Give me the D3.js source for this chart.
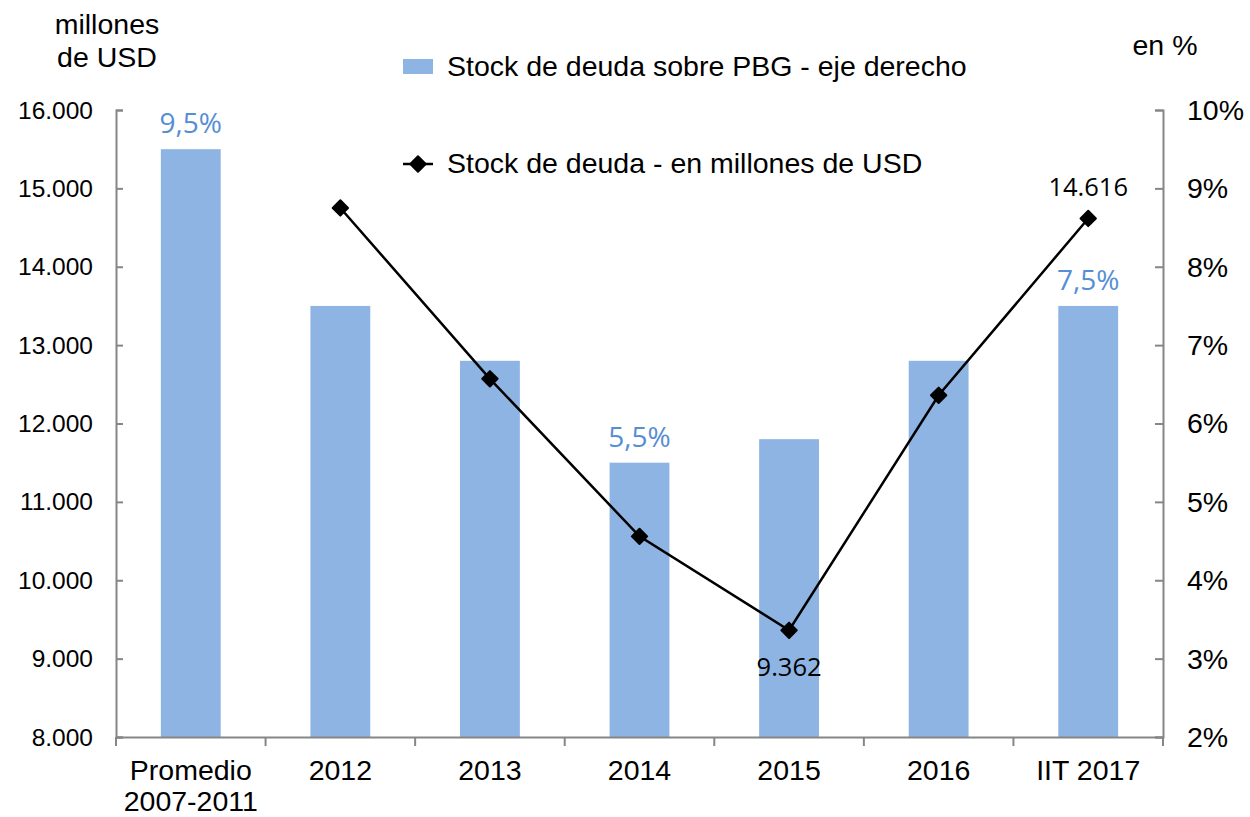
<!DOCTYPE html>
<html lang="es">
<head>
  <meta charset="UTF-8">
  <title>Stock de deuda</title>
  <script src="https://d3js.org/d3.v7.min.js"></script>
  <style>
    body { margin: 0; background: #fff; }
    text { font-family: "Liberation Sans", Arial, sans-serif; }
  </style>
</head>
<body>
  <div id="container"></div>
  <script>
    // datos
    var categories = ["Promedio\n2007-2011", "2012", "2013", "2014", "2015", "2016", "IIT 2017"];
    var debtShare = [9.5, 7.5, 6.8, 5.5, 5.8, 6.8, 7.5];            // % PBG, eje derecho
    var debtStock = [null, 14750, 12570, 10560, 9362, 12360, 14616]; // millones USD
    var leftTicks = [8000, 9000, 10000, 11000, 12000, 13000, 14000, 15000, 16000];
    var rightTicks = [2, 3, 4, 5, 6, 7, 8, 9, 10];
    var barLabelIdx = [0, 3, 6];
    var lineLabelIdx = [4, 6];

    var width = 1250, height = 817,
      margin = { left: 116, right: 87, top: 110, bottom: 80 },
      font_size = 28.5;

    var svg = d3.select("#container").append("svg")
      .attr("width", width).attr("height", height);

    var x = d3.scaleBand()
      .domain(categories)
      .range([margin.left, width - margin.right])
      .paddingInner(0.6).paddingOuter(0.3);
    var xb = d3.scaleBand().domain(categories).range([margin.left, width - margin.right]);

    var yL = d3.scaleLinear().domain([8000, 16000]).range([height - margin.bottom, margin.top]);
    var yR = d3.scaleLinear().domain([2, 10]).range([height - margin.bottom, margin.top]);
    var fmt = d3.formatLocale({ decimal: ",", thousands: ".", grouping: [3], currency: ["", ""] });

    // barras
    svg.selectAll(".bar").data(debtShare).enter().append("rect")
      .attr("class", "bar")
      .attr("x", function (d, i) { return x(categories[i]); })
      .attr("width", x.bandwidth())
      .attr("y", function (d) { return yR(d); })
      .attr("height", function (d) { return yR(2) - yR(d); })
      .style("fill", "#8EB4E3");

    // ejes
    var axisColor = "#868686";
    var gL = svg.append("g").attr("transform", "translate(" + margin.left + ",0)")
      .call(d3.axisRight(yL).tickValues(leftTicks).tickSize(7).tickFormat(""));
    var gR = svg.append("g").attr("transform", "translate(" + (width - margin.right) + ",0)")
      .call(d3.axisLeft(yR).tickValues(rightTicks).tickSize(8).tickFormat(""));
    var gB = svg.append("g").attr("transform", "translate(0," + (height - margin.bottom) + ")")
      .call(d3.axisBottom(xb).tickSize(0).tickFormat(""));
    [gL, gR, gB].forEach(function (g) {
      g.selectAll("path, line").attr("stroke", axisColor).attr("stroke-width", 2);
    });
    // ticks del eje x en los bordes de las categorias
    var bounds = categories.map(function (c) { return xb(c); }).concat([width - margin.right]);
    gB.selectAll(".sep").data(bounds).enter().append("line")
      .attr("x1", function (d) { return d; }).attr("x2", function (d) { return d; })
      .attr("y1", 0).attr("y2", 9)
      .attr("stroke", axisColor).attr("stroke-width", 2);

    // etiquetas de ejes
    svg.selectAll(".lt").data(leftTicks).enter().append("text")
      .attr("x", 93).attr("y", function (d) { return yL(d); })
      .attr("dy", "0.35em").attr("text-anchor", "end")
      .attr("font-size", 24.5)
      .text(function (d) { return fmt.format(",")(d); });
    svg.selectAll(".rt").data(rightTicks).enter().append("text")
      .attr("x", 1187).attr("y", function (d) { return yR(d); })
      .attr("dy", "0.35em")
      .attr("font-size", font_size)
      .text(function (d) { return d + "%"; });
    svg.selectAll(".ct").data(categories).enter().append("text")
      .attr("text-anchor", "middle")
      .attr("font-size", font_size)
      .attr("transform", function (d) { return "translate(" + (xb(d) + xb.bandwidth() / 2) + "," + 780 + ")"; })
      .selectAll("tspan").data(function (d) { return d.split("\n"); }).enter().append("tspan")
      .attr("x", 0).attr("dy", function (d, i) { return i ? 31 : 0; })
      .text(function (d) { return d; });

    // titulos de ejes
    svg.append("text").attr("x", 107).attr("y", 34).attr("text-anchor", "middle").attr("font-size", font_size).text("millones");
    svg.append("text").attr("x", 107).attr("y", 67).attr("text-anchor", "middle").attr("font-size", font_size).text("de USD");
    svg.append("text").attr("x", 1165).attr("y", 55).attr("text-anchor", "middle").attr("font-size", font_size).text("en %");

    // linea
    var pts = debtStock.map(function (v, i) { return { c: categories[i], v: v }; })
      .filter(function (d) { return d.v !== null; });
    var line = d3.line()
      .x(function (d) { return xb(d.c) + xb.bandwidth() / 2; })
      .y(function (d) { return yL(d.v); });
    svg.append("path").datum(pts).attr("d", line)
      .attr("fill", "none").attr("stroke", "#000").attr("stroke-width", 2.5);
    var diamond = d3.symbol().type(d3.symbolDiamond2).size(150);
    svg.selectAll(".mk").data(pts).enter().append("path")
      .attr("d", diamond)
      .attr("transform", function (d) { return "translate(" + line.x()(d) + "," + line.y()(d) + ")"; })
      .attr("fill", "#000").attr("stroke", "#000").attr("stroke-width", 2).attr("stroke-linejoin", "round");

    // etiquetas de datos
    svg.selectAll(".bl").data(barLabelIdx).enter().append("text")
      .attr("x", function (i) { return xb(categories[i]) + xb.bandwidth() / 2; })
      .attr("y", function (i) { return yR(debtShare[i]) - 16; })
      .attr("text-anchor", "middle")
      .attr("font-size", 28).style("font-family", "'Open Sans', sans-serif")
      .style("fill", "#558ED5")
      .text(function (i) { return String(debtShare[i]).replace(".", ",") + "%"; });
    svg.selectAll(".ll").data(lineLabelIdx).enter().append("text")
      .attr("x", function (i) { return xb(categories[i]) + xb.bandwidth() / 2; })
      .attr("y", function (i) { return i === 4 ? yL(debtStock[i]) + 46 : yL(debtStock[i]) - 22; })
      .attr("text-anchor", "middle")
      .attr("font-size", 25.5).style("font-family", "'Open Sans', sans-serif")
      .style("fill", "#000")
      .text(function (i) { return fmt.format(",")(debtStock[i]); });

    // leyenda
    svg.append("rect").attr("x", 403).attr("y", 59).attr("width", 30).attr("height", 15).style("fill", "#8EB4E3");
    svg.append("text").attr("x", 447).attr("y", 76).attr("font-size", font_size).text("Stock de deuda sobre PBG - eje derecho");
    svg.append("line").attr("x1", 403).attr("x2", 433).attr("y1", 164).attr("y2", 164)
      .attr("stroke", "#000").attr("stroke-width", 2.5);
    svg.append("path").attr("d", diamond).attr("transform", "translate(418,164)")
      .attr("fill", "#000").attr("stroke", "#000").attr("stroke-width", 2).attr("stroke-linejoin", "round");
    svg.append("text").attr("x", 447).attr("y", 173).attr("font-size", font_size).text("Stock de deuda - en millones de USD");
  </script>
</body>
</html>
